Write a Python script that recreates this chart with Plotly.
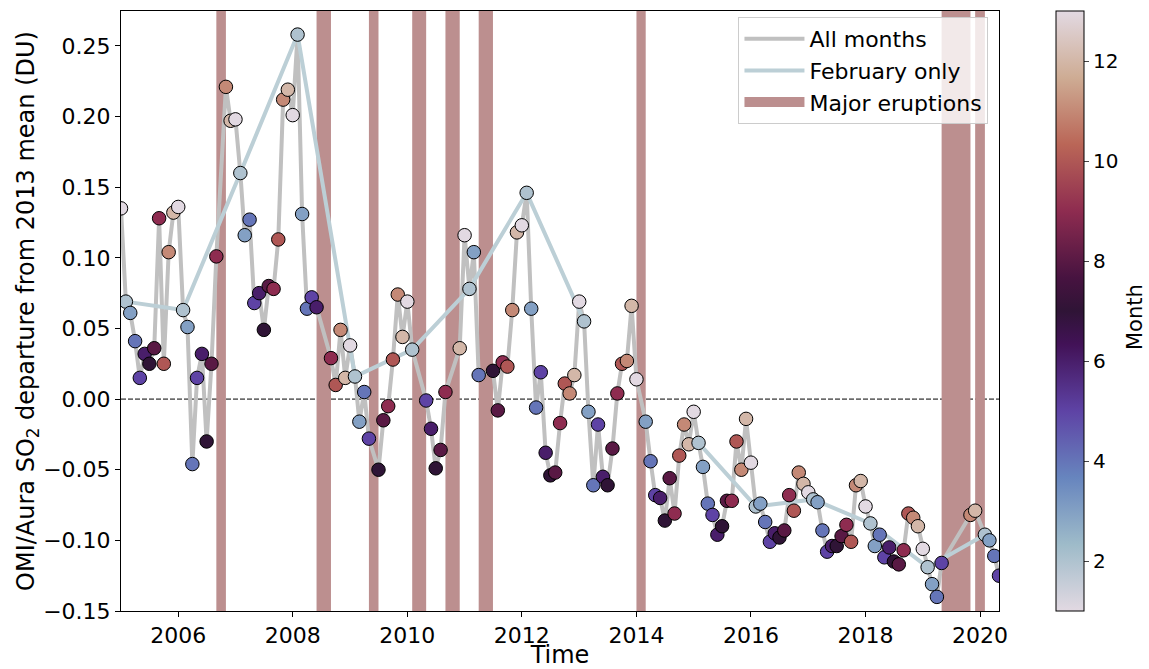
import plotly.graph_objects as go
import pandas as pd

# Monthly OMI/Aura SO2 departure from 2013 mean (DU), Jan 2005 .. May 2020.
# None = month excluded (major eruption period)
so2_2005 = [0.135, 0.069, 0.061, 0.041, 0.015, 0.032, 0.025, 0.036, 0.128, 0.025, 0.104, 0.132]
so2_2006 = [0.136, 0.063, 0.051, -0.046, 0.015, 0.032, -0.030, 0.025, 0.101, None, 0.221, 0.197]
so2_2007 = [0.198, 0.160, 0.116, 0.127, 0.068, 0.075, 0.049, 0.080, 0.078, 0.113, 0.212, 0.219]
so2_2008 = [0.201, 0.258, 0.131, 0.064, 0.072, 0.065, None, None, 0.029, 0.010, 0.049, 0.015]
so2_2009 = [0.038, 0.016, -0.016, 0.005, -0.028, None, -0.050, -0.015, -0.005, 0.028, 0.074, 0.044]
so2_2010 = [0.069, 0.035, None, None, -0.001, -0.021, -0.049, -0.036, 0.005, None, None, 0.036]
so2_2011 = [0.116, 0.078, 0.104, 0.017, None, None, 0.020, -0.008, 0.026, 0.023, 0.063, 0.118]
so2_2012 = [0.123, 0.146, 0.064, -0.006, 0.019, -0.038, -0.054, -0.052, -0.017, 0.011, 0.004, 0.017]
so2_2013 = [0.069, 0.055, -0.009, -0.061, -0.018, -0.055, -0.061, -0.035, 0.004, 0.025, 0.027, 0.066]
so2_2014 = [0.014, None, -0.016, -0.044, -0.068, -0.070, -0.086, -0.056, -0.081, -0.040, -0.018, -0.032]
so2_2015 = [-0.009, -0.031, -0.048, -0.074, -0.082, -0.096, -0.090, -0.072, -0.072, -0.030, -0.050, -0.014]
so2_2016 = [-0.045, -0.076, -0.074, -0.087, -0.101, -0.095, -0.098, -0.093, -0.068, -0.079, -0.052, -0.060]
so2_2017 = [-0.066, -0.071, -0.073, -0.093, -0.108, -0.104, -0.104, -0.097, -0.089, -0.101, -0.061, -0.058]
so2_2018 = [-0.076, -0.088, -0.104, -0.096, -0.112, -0.105, -0.115, -0.117, -0.107, -0.081, -0.084, -0.090]
so2_2019 = [-0.106, -0.119, -0.131, -0.140, -0.116, None, None, None, None, None, -0.082, -0.079]
so2_2020 = [None, -0.096, -0.100, -0.111, -0.125]

eruption_start = ["2006-09-01", "2008-06-01", "2009-05-01", "2010-02-01", "2010-09-01",
                  "2011-04-01", "2014-01-01", "2019-05-01", "2019-12-01"]
eruption_end = ["2006-11-01", "2008-09-01", "2009-07-01", "2010-05-01", "2010-12-01",
                "2011-07-01", "2014-03-01", "2019-11-01", "2020-02-01"]

yticks = [-0.15, -0.10, -0.05, 0.00, 0.05, 0.10, 0.15, 0.20, 0.25]
month_ticks = [2, 4, 6, 8, 10, 12]

values = (so2_2005 + so2_2006 + so2_2007 + so2_2008 + so2_2009 + so2_2010 + so2_2011 + so2_2012
          + so2_2013 + so2_2014 + so2_2015 + so2_2016 + so2_2017 + so2_2018 + so2_2019 + so2_2020)
dates = pd.date_range("2005-01-01", periods=len(values), freq="MS")
months = [d.month for d in dates]

FONT = "DejaVu Sans"
ERUPT = "#bc8f8f"
twilight = [
    [0.0, "#e2d9e2"], [1/9, "#9ebbc9"], [2/9, "#6785be"], [3/9, "#5e43a5"],
    [4/9, "#421257"], [0.5, "#2f1436"], [5/9, "#471340"], [6/9, "#8e2c50"],
    [7/9, "#ba6657"], [8/9, "#ceac94"], [1.0, "#e2d9e2"],
]

fig = go.Figure()

fig.add_trace(go.Scatter(
    x=dates, y=values, mode="lines", connectgaps=True,
    line=dict(color="#c0c0c0", width=4), name="All months", legendrank=1,
))
fig.add_trace(go.Scatter(
    x=dates[1::12], y=values[1::12], mode="lines", connectgaps=False,
    line=dict(color="#bccfd6", width=4), name="February only", legendrank=2,
))
# legend entry for the eruption bands
fig.add_trace(go.Scatter(
    x=[None], y=[None], mode="lines", line=dict(color=ERUPT, width=16),
    name="Major eruptions", legendrank=3,
))
fig.add_trace(go.Scatter(
    x=dates, y=values, mode="markers", showlegend=False,
    marker=dict(
        size=13.5, color=months, cmin=1, cmax=13, colorscale=twilight,
        line=dict(color="black", width=1),
        colorbar=dict(
            x=1.065, xanchor="left", xpad=0, ypad=0,
            y=0.5, yanchor="middle", len=1, lenmode="fraction",
            thickness=28, outlinecolor="black", outlinewidth=1,
            tickvals=month_ticks, ticks="outside", ticklen=5,
            tickfont=dict(family=FONT, size=20, color="black"),
        ),
    ),
))

shapes = [dict(type="line", xref="paper", x0=0, x1=1, yref="y", y0=0, y1=0,
               line=dict(color="black", width=1, dash="5px,2px"), layer="below")]
for s, e in zip(eruption_start, eruption_end):
    shapes.append(dict(type="rect", xref="x", yref="paper", x0=s, x1=e, y0=0, y1=1,
                       fillcolor=ERUPT, line=dict(width=0), layer="below"))

fig.update_layout(
    width=1149, height=669,
    margin=dict(l=121, r=150, t=11, b=58),
    paper_bgcolor="white", plot_bgcolor="white",
    font=dict(family=FONT, size=22, color="black"),
    shapes=shapes,
    annotations=[dict(
        text="Month", textangle=-90, xref="paper", yref="paper",
        x=1.155, y=0.49, xanchor="center", yanchor="middle", showarrow=False,
        font=dict(family=FONT, size=21, color="black"),
    )],
    legend=dict(
        x=0.988, y=0.99, xanchor="right", yanchor="top", itemwidth=60,
        bgcolor="rgba(255,255,255,0.8)", bordercolor="#cccccc", borderwidth=1,
        font=dict(family=FONT, size=22, color="black"),
    ),
    xaxis=dict(
        type="date", range=["2005-01-01", "2020-05-01"],
        tick0="2006-01-01", dtick="M24", tickformat="%Y",
        showgrid=False, zeroline=False,
        showline=True, mirror=True, linecolor="black", linewidth=1,
        ticks="outside", ticklen=5, tickcolor="black",
        tickfont=dict(family=FONT, size=22),
        title=dict(text="Time", font=dict(family=FONT, size=24), standoff=6),
        automargin=False,
    ),
    yaxis=dict(
        range=[-0.15, 0.2747], tickvals=yticks, tickformat=".2f",
        showgrid=False, zeroline=False,
        showline=True, mirror=True, linecolor="black", linewidth=1,
        ticks="outside", ticklen=5, tickcolor="black",
        tickfont=dict(family=FONT, size=22),
        title=dict(text="OMI/Aura SO<sub>2</sub> departure from 2013 mean (DU)",
                   font=dict(family=FONT, size=24), standoff=0),
        automargin=False,
    ),
)

fig.write_html("out.html")
